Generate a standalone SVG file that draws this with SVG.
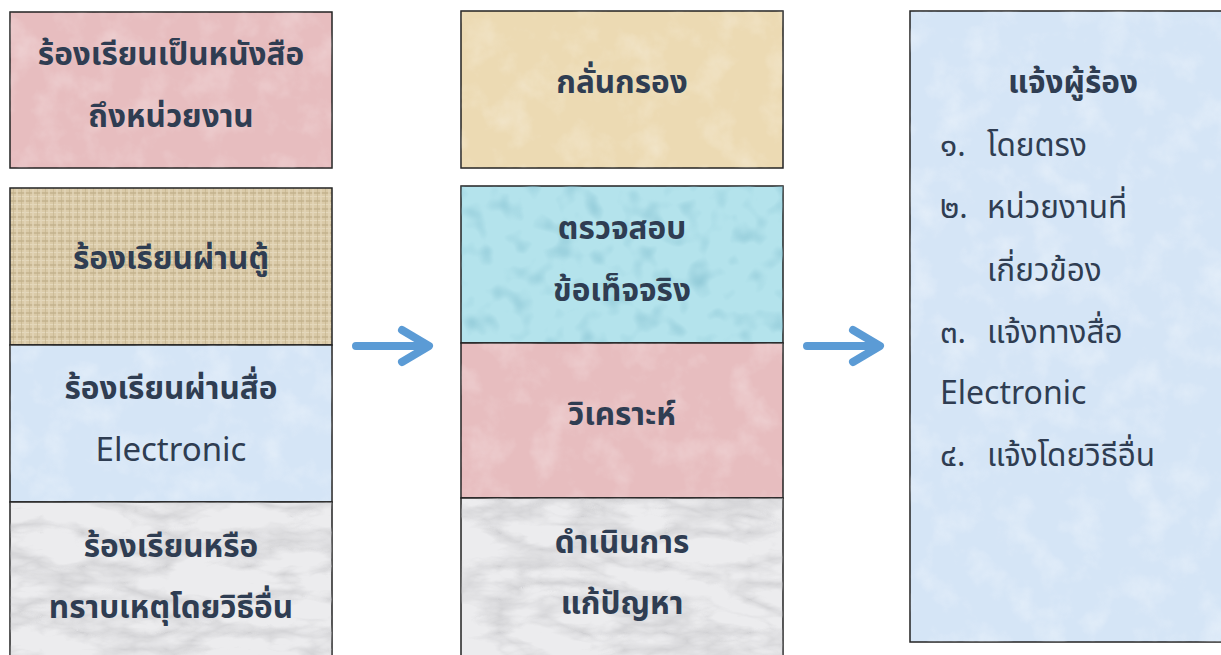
<svg xmlns="http://www.w3.org/2000/svg" width="1221" height="655" viewBox="0 0 1221 655">
<style>
.t{font-family:"Noto Sans Thai","Noto Sans","Leelawadee UI",sans-serif;font-size:31.5px;fill:#2f3d52}
.b{font-weight:700;text-anchor:middle}
.c{text-anchor:middle;font-size:33px}
.e{font-size:32px}
.box{stroke:#222;stroke-width:1.5}
.arrow{fill:none;stroke:#5b9bd5;stroke-width:8;stroke-linecap:round;stroke-linejoin:round}
</style>
<defs>
<filter id="grainW" x="0" y="0" width="1" height="1">
<feTurbulence type="fractalNoise" baseFrequency="0.03" numOctaves="4" seed="3"/>
<feColorMatrix type="matrix" values="0 0 0 0 1 0 0 0 0 1 0 0 0 0 1 1.2 0 0 0 -0.55"/>
<feComposite in2="SourceGraphic" operator="in"/>
</filter>
<filter id="marble" x="0" y="0" width="1" height="1">
<feTurbulence type="turbulence" baseFrequency="0.012 0.03" numOctaves="4" seed="11"/>
<feColorMatrix type="matrix" values="0 0 0 0 0.5 0 0 0 0 0.5 0 0 0 0 0.52 -1.3 0 0 0 0.55"/>
<feComposite in2="SourceGraphic" operator="in"/>
</filter>
<filter id="drops" x="0" y="0" width="1" height="1">
<feTurbulence type="fractalNoise" baseFrequency="0.045" numOctaves="2" seed="5"/>
<feColorMatrix type="matrix" values="0 0 0 0 0.25 0 0 0 0 0.55 0 0 0 0 0.65 1.8 0 0 0 -0.9"/>
<feComposite in2="SourceGraphic" operator="in"/>
</filter>
<pattern id="burlap" width="8" height="8" patternUnits="userSpaceOnUse">
<rect width="8" height="8" fill="#dacaa8"/>
<rect x="0" y="0" width="8" height="2" fill="#c9b894"/>
<rect x="0" y="4" width="8" height="1" fill="#e4d8bc"/>
<rect x="0" y="0" width="2" height="8" fill="#e3d6b9" opacity="0.7"/>
<rect x="5" y="0" width="1" height="8" fill="#c2b08c" opacity="0.6"/>
</pattern>
</defs>

<g id="n-letter">
<rect class="box" x="10" y="12" width="322" height="156" fill="#e7bdbf"/>
<rect x="10" y="12" width="322" height="156" filter="url(#grainW)" opacity="0.5"/>
<text class="t b" x="171" y="65">ร้องเรียนเป็นหนังสือ</text>
<text class="t b" x="171" y="127">ถึงหน่วยงาน</text>
</g>
<g id="n-kiosk">
<rect class="box" x="10" y="188" width="322" height="157" fill="url(#burlap)"/>
<text class="t b" x="171" y="269">ร้องเรียนผ่านตู้</text>
</g>
<g id="n-electronic">
<rect class="box" x="10" y="345" width="322" height="157" fill="#d5e5f6"/>
<rect x="10" y="345" width="322" height="157" filter="url(#grainW)" opacity="0.6"/>
<text class="t b" x="171" y="399">ร้องเรียนผ่านสื่อ</text>
<text class="t c" x="171" y="461">Electronic</text>
</g>
<g id="n-other">
<rect class="box" x="10" y="502" width="322" height="160" fill="#ececee"/>
<rect x="10" y="502" width="322" height="160" filter="url(#marble)"/>
<text class="t b" x="171" y="557">ร้องเรียนหรือ</text>
<text class="t b" x="171" y="618">ทราบเหตุโดยวิธีอื่น</text>
</g>

<g id="n-screen">
<rect class="box" x="461" y="11" width="322" height="157" fill="#ecdab3"/>
<rect x="461" y="11" width="322" height="157" filter="url(#grainW)" opacity="0.5"/>
<text class="t b" x="622" y="93">กลั่นกรอง</text>
</g>
<g id="n-verify">
<rect class="box" x="461" y="186" width="322" height="157" fill="#b4e3ec"/>
<rect x="461" y="186" width="322" height="157" filter="url(#drops)"/>
<text class="t b" x="622" y="239">ตรวจสอบ</text>
<text class="t b" x="622" y="301">ข้อเท็จจริง</text>
</g>
<g id="n-analyze">
<rect class="box" x="461" y="343" width="322" height="155" fill="#e7bdbf"/>
<rect x="461" y="343" width="322" height="155" filter="url(#grainW)" opacity="0.5"/>
<text class="t b" x="622" y="425">วิเคราะห์</text>
</g>
<g id="n-resolve">
<rect class="box" x="461" y="498" width="322" height="164" fill="#ececee"/>
<rect x="461" y="498" width="322" height="164" filter="url(#marble)"/>
<text class="t b" x="622" y="553">ดำเนินการ</text>
<text class="t b" x="622" y="614">แก้ปัญหา</text>
</g>

<g id="n-notify">
<rect class="box" x="910" y="11" width="320" height="631" fill="#d5e5f6"/>
<rect x="910" y="11" width="311" height="631" filter="url(#grainW)" opacity="0.6"/>
<text class="t b" x="1073" y="93">แจ้งผู้ร้อง</text>
<text class="t" x="940" y="156">๑. <tspan x="987">โดยตรง</tspan></text>
<text class="t" x="940" y="218">๒. <tspan x="987">หน่วยงานที่</tspan></text>
<text class="t" x="987" y="281">เกี่ยวข้อง</text>
<text class="t" x="940" y="343">๓. <tspan x="987">แจ้งทางสื่อ</tspan></text>
<text class="t e" x="940" y="404">Electronic</text>
<text class="t" x="940" y="466">๔. <tspan x="987">แจ้งโดยวิธีอื่น</tspan></text>
</g>

<g id="connectors">
<path class="arrow" d="M356 346 H428 M402 330 L429 346 L402 362"/>
<path class="arrow" d="M807 346 H879 M853 330 L880 346 L853 362"/>
</g>
</svg>
